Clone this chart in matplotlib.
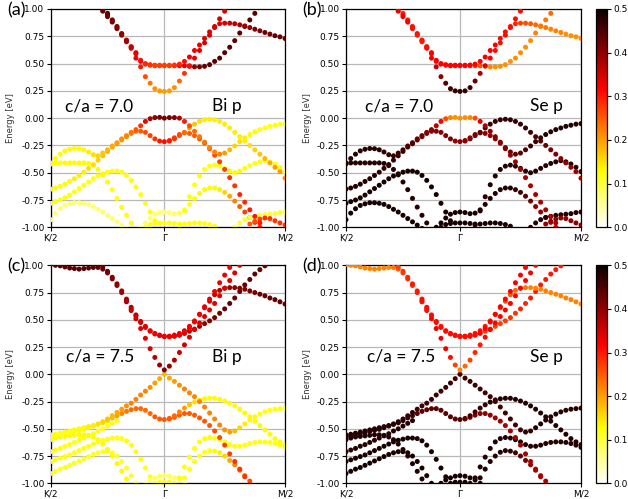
import numpy as np
import matplotlib
matplotlib.use("Agg")
import matplotlib.pyplot as plt
from matplotlib.colors import Normalize
from matplotlib.cm import ScalarMappable

# k-path: 25 points K/2 -> Gamma and 25 points Gamma -> M/2 (Gamma shared)
GAMMA = 0.485
k_path = np.concatenate([np.linspace(0, GAMMA, 25), np.linspace(GAMMA, 1, 25)[1:]])
k_ticks = [0, GAMMA, 1]
k_labels = ["K/2", "Γ", "M/2"]

# each band: (first k index, energies in eV); weights are orbital projections x100

# ---------------- c/a = 7.0 ----------------
cb1_70 = (11, [0.98, 0.93, 0.88, 0.82, 0.76, 0.70, 0.64, 0.55, 0.47, 0.38, 0.32, 0.27, 0.25, 0.245,
               0.25, 0.28, 0.34, 0.41, 0.48, 0.55, 0.62, 0.69, 0.76, 0.83, 0.91, 0.98])
cb1_70_bi = [43, 43, 42, 41, 40, 38, 36, 33, 30, 26, 23, 21, 20, 20, 20, 21, 24, 28, 31, 33, 34, 34, 35, 35, 35, 35]
cb1_70_se = [33, 33, 32, 31, 30, 30, 31, 33, 36, 40, 44, 46, 47, 47, 47, 46, 43, 38, 34, 32, 31, 31, 31, 31, 31, 31]

cb2_70 = (11, [0.99, 0.945, 0.89, 0.83, 0.77, 0.71, 0.65, 0.60, 0.53, 0.50, 0.49, 0.485, 0.485, 0.485,
               0.485, 0.487, 0.495, 0.52, 0.56, 0.62, 0.67, 0.73, 0.79, 0.84, 0.865, 0.87, 0.87, 0.865,
               0.855, 0.845, 0.83, 0.815, 0.80, 0.785, 0.77, 0.755, 0.745, 0.73])
cb2_70_bi = [44, 43, 42, 41, 40, 38, 36, 34, 31, 29, 28, 27, 27, 27,
             27, 28, 29, 31, 33, 33, 33, 34, 34, 34, 34, 35, 36, 37, 38, 39, 40, 41, 41, 42, 42, 43, 43, 43]
cb2_70_se = [31, 31, 31, 31, 31, 31, 31, 32, 32, 32, 32, 32, 32, 32,
             32, 32, 32, 32, 32, 32, 32, 31, 31, 30, 29, 27, 26, 25, 24, 23, 23, 22, 22, 22, 21, 21, 21, 21]

cb3_70 = (11, [1.01, 0.96, 0.90, 0.84, 0.775, 0.715, 0.655, 0.59, 0.52, 0.495, 0.485, 0.48, 0.48, 0.48,
               0.48, 0.48, 0.48, 0.48, 0.475, 0.47, 0.47, 0.475, 0.49, 0.52, 0.55, 0.60, 0.65, 0.71,
               0.78, 0.84, 0.90, 0.96, 1.02])
cb3_70_bi = [44, 44, 43, 42, 41, 39, 37, 35, 32, 30, 29, 28, 28, 28,
             29, 30, 32, 34, 37, 40, 42, 43, 44, 44, 44, 44, 44, 44, 44, 44, 44, 44, 44]
cb3_70_se = [29, 29, 29, 30, 30, 30, 31, 31, 32, 32, 32, 32, 32, 32,
             31, 30, 28, 26, 24, 22, 21, 21, 21, 21, 21, 21, 21, 21, 22, 22, 23, 24, 25]

vb1_70 = (0, [-0.42, -0.37, -0.33, -0.30, -0.285, -0.278, -0.28, -0.29, -0.31, -0.335,
              -0.345, -0.32, -0.29, -0.255, -0.225, -0.19, -0.16, -0.13, -0.105, -0.07,
              -0.03, -0.005, 0.005, 0.007, 0.0, 0.005, 0.005, 0.0, -0.03, -0.07,
              -0.12, -0.17, -0.22, -0.27, -0.31, -0.33, -0.32, -0.29, -0.255, -0.215,
              -0.18, -0.15, -0.125, -0.105, -0.09, -0.075, -0.065, -0.055, -0.05])
vb1_70_bi = [13, 13, 13, 13, 13, 13, 13, 13, 14, 15, 16, 17, 18, 19, 20, 21, 22, 23, 25, 28,
             33, 38, 41, 42, 42, 42, 41, 38, 30, 26, 24, 23, 23, 22, 22, 22, 20, 18, 16, 15,
             14, 13, 13, 12, 12, 12, 12, 12, 12]
vb1_70_se = [48, 48, 48, 48, 48, 48, 48, 48, 47, 47, 47, 46, 46, 45, 44, 43, 42, 41, 40, 37,
             32, 26, 22, 21, 21, 21, 22, 26, 34, 38, 40, 41, 41, 42, 42, 43, 44, 45, 46, 47,
             47, 48, 48, 48, 48, 48, 48, 48, 48]

vb2_70 = (0, [-0.65, -0.64, -0.625, -0.605, -0.58, -0.555, -0.525, -0.495, -0.46, -0.425,
              -0.385, -0.345, -0.305, -0.265, -0.235, -0.20, -0.17, -0.14, -0.12, -0.12,
              -0.13, -0.16, -0.19, -0.21, -0.215, -0.21, -0.19, -0.16, -0.13, -0.09,
              -0.055, -0.03, -0.015, -0.01, -0.015, -0.03, -0.055, -0.09, -0.13, -0.17,
              -0.21, -0.25, -0.29, -0.33, -0.37, -0.41, -0.45, -0.49, -0.55])
vb2_70_bi = [13, 13, 13, 13, 13, 14, 14, 14, 15, 15, 16, 17, 18, 19, 20, 21, 22, 23, 24, 25,
             26, 27, 28, 30, 31, 30, 28, 26, 24, 20, 17, 15, 14, 14, 14, 14, 14, 14, 14, 14,
             14, 15, 16, 17, 18, 19, 20, 20, 21]
vb2_70_se = [48, 48, 48, 48, 48, 48, 48, 47, 47, 47, 47, 46, 46, 45, 44, 43, 42, 42, 41, 41,
             41, 41, 41, 40, 40, 40, 41, 42, 43, 45, 46, 47, 47, 47, 47, 47, 47, 47, 46, 45,
             44, 43, 42, 41, 40, 40, 39, 39, 38]

l2_70 = (0, [-0.41, -0.41, -0.41, -0.41, -0.41, -0.41, -0.41, -0.41, -0.415, -0.435,
             -0.47, -0.52, -0.585, -0.655, -0.735, -0.815, -0.89, -0.96, -1.03])
l2_70_bi = [13, 13, 13, 13, 13, 13, 13, 13, 13, 13, 13, 13, 12, 12, 12, 12, 12, 12, 12]
l2_70_se = [48, 48, 48, 48, 48, 48, 48, 48, 48, 48, 48, 48, 48, 48, 48, 48, 48, 48, 48]

l4_70 = (0, [-0.78, -0.765, -0.75, -0.73, -0.705, -0.675, -0.645, -0.615, -0.585, -0.555,
             -0.53, -0.51, -0.495, -0.485, -0.485, -0.495, -0.525, -0.57, -0.63, -0.70,
             -0.78, -0.86, -0.94, -1.02])
l4_70_bi = [12, 12, 12, 12, 12, 12, 12, 12, 12, 12, 12, 12, 12, 12, 12, 12, 12, 12, 12, 12, 12, 12, 12, 12]
l4_70_se = [49, 49, 49, 49, 49, 49, 49, 49, 49, 49, 49, 49, 49, 49, 49, 49, 49, 49, 49, 49, 49, 49, 49, 49]

l5_70 = (0, [-0.93, -0.87, -0.83, -0.80, -0.785, -0.775, -0.775, -0.78, -0.79, -0.81,
             -0.835, -0.86, -0.89, -0.92, -0.95, -0.98, -1.01])
l5_70_bi = [7, 7, 7, 7, 7, 7, 7, 7, 7, 7, 7, 7, 7, 7, 7, 7, 7]
l5_70_se = [49, 49, 49, 49, 49, 49, 49, 49, 49, 49, 49, 49, 49, 49, 49, 49, 49]

b1_70 = (19, [-1.0, -0.96, -0.915, -0.88, -0.865, -0.86,
              -0.865, -0.875, -0.87, -0.84, -0.79, -0.735, -0.69, -0.655, -0.64, -0.64,
              -0.655, -0.68, -0.715, -0.76, -0.81, -0.86, -0.91, -0.955, -1.0])
b1_70_bi = [7, 7, 7, 7, 7, 7, 7, 8, 9, 10, 11, 12, 13, 13, 13, 13, 14, 16, 19, 22, 25, 27, 28, 29, 30]
b1_70_se = [49, 49, 49, 49, 49, 49, 49, 49, 49, 48, 48, 48, 48, 48, 48, 48, 47, 46, 44, 42, 40, 39, 38, 37, 37]

r1_70 = (27, [-0.98, -0.85, -0.72, -0.61, -0.53, -0.47, -0.44, -0.43, -0.44, -0.46, -0.485,
              -0.50, -0.485, -0.46, -0.435, -0.415, -0.40, -0.39, -0.40, -0.42, -0.45, -0.49])
r1_70_bi = [12, 12, 12, 12, 12, 12, 12, 12, 12, 12, 13, 13, 13, 12, 12, 12, 12, 12, 12, 12, 12, 12]
r1_70_se = [48, 48, 48, 48, 48, 48, 48, 48, 48, 48, 48, 48, 48, 48, 48, 48, 48, 48, 48, 48, 48, 48]

vbp_70 = (25, [-0.205, -0.18, -0.15, -0.135, -0.14, -0.16, -0.19, -0.23, -0.28, -0.34,
               -0.40, -0.47, -0.545, -0.62, -0.70, -0.77, -0.84, -0.90, -0.96, -1.02])
vbp_70_bi = [28, 27, 26, 25, 25, 25, 25, 25, 26, 26, 27, 27, 28, 28, 29, 29, 30, 30, 30, 30]
vbp_70_se = [40, 40, 40, 40, 40, 40, 40, 40, 40, 39, 39, 38, 38, 38, 38, 38, 38, 38, 38, 38]

r4_70 = (38, [-1.0, -0.96, -0.93, -0.91, -0.90, -0.89, -0.885, -0.88, -0.875, -0.865, -0.86])
r4_70_bi = [10, 10, 10, 10, 10, 10, 10, 10, 10, 10, 10]
r4_70_se = [48, 48, 48, 48, 48, 48, 48, 48, 48, 48, 48]

r5_70 = (41, [-0.97, -0.945, -0.925, -0.915, -0.92, -0.94, -0.96, -0.98])
r5_70_bi = [25, 26, 27, 28, 28, 28, 28, 28]
r5_70_se = [40, 40, 40, 40, 40, 40, 40, 40]

b2_70 = (20, [-1.0, -0.975, -0.965, -0.96, -0.96, -0.96, -0.965, -0.97, -0.97, -0.965,
              -0.96, -0.96, -0.965, -0.975, -0.99])
b2_70_bi = [12, 12, 12, 12, 12, 12, 12, 12, 12, 12, 12, 12, 12, 12, 12]
b2_70_se = [49, 49, 49, 49, 49, 49, 49, 49, 49, 49, 49, 49, 49, 49, 49]

# ---------------- c/a = 7.5 ----------------
cba_75 = (0, [1.01, 1.0, 0.995, 0.985, 0.975, 0.97, 0.965, 0.97, 0.975, 0.98, 0.98, 0.965, 0.93,
              0.875, 0.815, 0.75, 0.675, 0.60, 0.535, 0.475, 0.43, 0.395, 0.37, 0.355, 0.345,
              0.345, 0.35, 0.36, 0.375, 0.395, 0.415, 0.44, 0.465, 0.49, 0.52, 0.56, 0.60,
              0.65, 0.70, 0.76, 0.82, 0.87, 0.92, 0.96, 0.995])
cba_75_bi = [44, 44, 44, 44, 44, 44, 44, 44, 44, 44, 44, 43, 42, 41, 40, 39, 38, 37, 36, 35, 34, 33, 33, 33, 33,
             33, 34, 35, 36, 37, 38, 39, 40, 41, 42, 42, 43, 43, 43, 43, 43, 43, 43, 43, 43]
cba_75_se = [22, 22, 22, 22, 22, 22, 22, 22, 22, 22, 23, 25, 27, 28, 29, 30, 30, 31, 31, 31, 31, 31, 31, 31, 31,
             31, 30, 29, 28, 27, 27, 27, 27, 27, 28, 28, 29, 29, 30, 30, 30, 30, 30, 30, 30]

cbb_75 = (11, [0.985, 0.945, 0.89, 0.83, 0.765, 0.69, 0.615, 0.545, 0.485, 0.44, 0.40, 0.375, 0.36, 0.35,
               0.35, 0.36, 0.375, 0.40, 0.44, 0.49, 0.55, 0.61, 0.67, 0.73, 0.77, 0.79, 0.795, 0.795,
               0.79, 0.78, 0.765, 0.75, 0.735, 0.72, 0.70, 0.685, 0.665, 0.645])
cbb_75_bi = [43, 42, 41, 40, 39, 38, 37, 36, 35, 34, 33, 33, 33, 33,
             33, 33, 33, 33, 33, 33, 33, 34, 35, 36, 37, 38, 39, 40, 41, 41, 42, 42, 43, 43, 43, 43, 43, 43]
cbb_75_se = [27, 28, 29, 30, 30, 31, 31, 31, 31, 31, 31, 31, 31, 31,
             31, 31, 31, 30, 30, 29, 28, 27, 26, 25, 24, 23, 23, 22, 22, 22, 22, 22, 22, 22, 22, 22, 22, 22]

cb1_75 = (16, [0.665, 0.585, 0.51, 0.42, 0.33, 0.235, 0.155, 0.085, 0.04,
               0.075, 0.13, 0.20, 0.27, 0.34, 0.41, 0.47, 0.53, 0.59, 0.65, 0.72, 0.79, 0.86, 0.93, 1.0])
cb1_75_bi = [38, 36, 35, 34, 34, 35, 37, 39, 41, 40, 38, 36, 35, 34, 34, 34, 34, 34, 34, 34, 34, 34, 34, 34]
cb1_75_se = [31, 31, 32, 33, 33, 33, 31, 27, 22, 24, 27, 29, 30, 31, 32, 32, 32, 32, 32, 32, 32, 32, 32, 32]

cb2_75 = (25, [0.345, 0.35, 0.36, 0.38, 0.42, 0.48, 0.55, 0.62, 0.69, 0.76, 0.84, 0.91, 0.98])
cb2_75_bi = [33, 33, 33, 33, 33, 33, 33, 33, 33, 33, 33, 33, 33]
cb2_75_se = [31, 31, 31, 32, 32, 32, 32, 32, 32, 32, 32, 32, 32]

vb1_75 = (0, [-0.555, -0.55, -0.54, -0.53, -0.52, -0.51, -0.50, -0.49, -0.48, -0.47,
              -0.455, -0.435, -0.41, -0.38, -0.35, -0.32, -0.29, -0.265, -0.23, -0.19,
              -0.155, -0.12, -0.08, -0.04, 0.0, -0.035, -0.065, -0.10, -0.135, -0.17,
              -0.205, -0.25, -0.30, -0.355, -0.41, -0.465, -0.51, -0.53, -0.52, -0.49,
              -0.455, -0.42, -0.39, -0.365, -0.345, -0.33, -0.32, -0.315, -0.31])
vb1_75_bi = [12, 12, 12, 12, 12, 13, 13, 13, 14, 14, 15, 16, 17, 18, 19, 20, 21, 22, 22, 22,
             22, 21, 20, 19, 18, 19, 20, 21, 22, 22, 22, 22, 22, 22, 22, 22, 21, 20, 18, 16,
             14, 13, 13, 12, 12, 12, 12, 12, 12]
vb1_75_se = [48, 48, 48, 48, 48, 48, 48, 48, 48, 48, 48, 48, 47, 47, 47, 46, 46, 46, 46, 46,
             46, 46, 46, 46, 45, 46, 46, 46, 46, 46, 46, 46, 46, 46, 46, 46, 46, 47, 47, 48,
             48, 48, 48, 48, 48, 48, 48, 48, 48]

vb2_75 = (0, [-0.575, -0.565, -0.555, -0.545, -0.535, -0.525, -0.515, -0.505, -0.49, -0.475,
              -0.46, -0.445, -0.425, -0.40, -0.38, -0.36, -0.34, -0.325, -0.315, -0.315,
              -0.33, -0.36, -0.39, -0.41, -0.415, -0.405, -0.38, -0.345, -0.31, -0.28,
              -0.255, -0.235, -0.225, -0.22, -0.22, -0.23, -0.245, -0.265, -0.29, -0.32,
              -0.355, -0.39, -0.43, -0.47, -0.51, -0.55, -0.59, -0.62, -0.645])
vb2_75_bi = [12, 12, 12, 12, 12, 12, 13, 13, 13, 14, 14, 15, 16, 18, 20, 22, 23, 24, 24, 24,
             24, 24, 25, 25, 25, 25, 24, 22, 20, 17, 15, 14, 13, 13, 13, 13, 13, 13, 13, 13,
             13, 13, 13, 13, 13, 13, 13, 13, 13]
vb2_75_se = [48, 48, 48, 48, 48, 48, 48, 48, 48, 48, 48, 48, 47, 46, 45, 44, 44, 44, 44, 44,
             44, 44, 44, 44, 44, 44, 45, 46, 47, 47, 48, 48, 48, 48, 48, 48, 48, 48, 48, 48,
             48, 48, 48, 48, 48, 48, 48, 48, 48]

vbp_75 = (25, [-0.41, -0.395, -0.375, -0.36, -0.36, -0.375, -0.40, -0.43, -0.47, -0.52,
               -0.58, -0.65, -0.73, -0.80, -0.87, -0.94, -1.01])
vbp_75_bi = [25, 25, 25, 25, 25, 25, 25, 25, 25, 26, 26, 27, 27, 28, 28, 28, 28]
vbp_75_se = [42, 42, 41, 40, 40, 40, 39, 39, 38, 38, 38, 38, 38, 38, 38, 38, 38]

l2_75 = (0, [-0.60, -0.585, -0.575, -0.57, -0.565, -0.56, -0.555, -0.555, -0.56, -0.575,
             -0.60, -0.64, -0.69, -0.75, -0.82, -0.89, -0.96, -1.03])
l2_75_bi = [13, 13, 13, 13, 13, 13, 13, 13, 13, 13, 13, 13, 13, 13, 13, 13, 13, 13]
l2_75_se = [48, 48, 48, 48, 48, 48, 48, 48, 48, 48, 48, 48, 48, 48, 48, 48, 48, 48]

l3_75 = (0, [-0.71, -0.695, -0.68, -0.66, -0.645, -0.625, -0.605, -0.585, -0.565, -0.545,
             -0.52, -0.50, -0.475, -0.45, -0.425])
l3_75_bi = [12, 12, 12, 12, 12, 12, 12, 12, 12, 12, 12, 12, 12, 12, 12]
l3_75_se = [48, 48, 48, 48, 48, 48, 48, 48, 48, 48, 48, 48, 48, 48, 48]

l4_75 = (0, [-0.80, -0.785, -0.77, -0.755, -0.74, -0.72, -0.70, -0.68, -0.66, -0.64,
             -0.62, -0.605, -0.595, -0.585, -0.585, -0.59, -0.61, -0.65, -0.71, -0.78,
             -0.86, -0.94, -1.02])
l4_75_bi = [12, 12, 12, 12, 12, 12, 12, 12, 12, 12, 12, 12, 12, 12, 12, 12, 12, 12, 12, 12, 12, 12, 12]
l4_75_se = [49, 49, 49, 49, 49, 49, 49, 49, 49, 49, 49, 49, 49, 49, 49, 49, 49, 49, 49, 49, 49, 49, 49]

l5_75 = (0, [-0.91, -0.89, -0.87, -0.855, -0.835, -0.815, -0.795, -0.775, -0.755, -0.735,
             -0.72, -0.71, -0.71, -0.72, -0.75, -0.80, -0.86, -0.93, -1.0])
l5_75_bi = [11, 11, 11, 11, 11, 11, 11, 11, 11, 11, 11, 11, 11, 11, 11, 11, 11, 11, 11]
l5_75_se = [49, 49, 49, 49, 49, 49, 49, 49, 49, 49, 49, 49, 49, 49, 49, 49, 49, 49, 49]

r2_75 = (27, [-0.95, -0.85, -0.76, -0.68, -0.62, -0.59, -0.58, -0.585, -0.60, -0.62, -0.645,
              -0.66, -0.66, -0.65, -0.635, -0.625, -0.62, -0.62, -0.625, -0.635, -0.65, -0.67])
r2_75_bi = [12, 12, 12, 12, 12, 12, 12, 12, 12, 12, 12, 12, 12, 12, 12, 12, 12, 12, 12, 12, 12, 12]
r2_75_se = [48, 48, 48, 48, 48, 48, 48, 48, 48, 48, 48, 48, 48, 48, 48, 48, 48, 48, 48, 48, 48, 48]

r3_75 = (28, [-0.95, -0.87, -0.80, -0.75, -0.715, -0.70, -0.705, -0.72, -0.75, -0.79, -0.83,
              -0.88, -0.93, -0.98])
r3_75_bi = [12, 12, 12, 12, 12, 12, 13, 14, 16, 19, 22, 24, 25, 26]
r3_75_se = [48, 48, 48, 48, 48, 48, 47, 46, 44, 42, 40, 39, 38, 38]

b1_75 = (20, [-1.0, -0.97, -0.95, -0.935, -0.93, -0.935, -0.95, -0.97, -1.0])
b1_75_bi = [8, 8, 8, 8, 8, 8, 8, 8, 8]
b1_75_se = [49, 49, 49, 49, 49, 49, 49, 49, 49]

b2_75 = (22, [-1.0, -0.99, -0.99, -0.99, -1.0])
b2_75_bi = [12, 12, 12, 12, 12]
b2_75_se = [49, 49, 49, 49, 49]

bands_70 = [
    (l5_70, l5_70_bi, l5_70_se), (l4_70, l4_70_bi, l4_70_se), (l2_70, l2_70_bi, l2_70_se),
    (b2_70, b2_70_bi, b2_70_se), (b1_70, b1_70_bi, b1_70_se), (r1_70, r1_70_bi, r1_70_se),
    (r4_70, r4_70_bi, r4_70_se), (r5_70, r5_70_bi, r5_70_se), (vbp_70, vbp_70_bi, vbp_70_se),
    (vb2_70, vb2_70_bi, vb2_70_se), (vb1_70, vb1_70_bi, vb1_70_se),
    (cb3_70, cb3_70_bi, cb3_70_se), (cb2_70, cb2_70_bi, cb2_70_se), (cb1_70, cb1_70_bi, cb1_70_se),
]
bands_75 = [
    (l5_75, l5_75_bi, l5_75_se), (l4_75, l4_75_bi, l4_75_se), (l3_75, l3_75_bi, l3_75_se),
    (l2_75, l2_75_bi, l2_75_se), (b2_75, b2_75_bi, b2_75_se), (b1_75, b1_75_bi, b1_75_se),
    (r3_75, r3_75_bi, r3_75_se), (r2_75, r2_75_bi, r2_75_se), (vbp_75, vbp_75_bi, vbp_75_se),
    (vb2_75, vb2_75_bi, vb2_75_se), (vb1_75, vb1_75_bi, vb1_75_se),
    (cba_75, cba_75_bi, cba_75_se), (cbb_75, cbb_75_bi, cbb_75_se),
    (cb2_75, cb2_75_bi, cb2_75_se), (cb1_75, cb1_75_bi, cb1_75_se),
]

CMAP = "hot_r"
VMAX = 0.5
W, H = 628, 499
TEXT_FONT = ["Lato", "DejaVu Sans"]


def px_box(x0, y0, x1, y1):
    # pixel box (left, top, right, bottom) -> figure fraction rect
    return [x0 / W, 1 - y1 / H, (x1 - x0) / W, (y1 - y0) / H]


def draw_panel(ax, bands, use_bi):
    for (start, energies), w_bi, w_se in bands:
        w = w_bi if use_bi else w_se
        assert len(w) == len(energies), (start, len(w), len(energies))
        x = k_path[start:start + len(energies)]
        ax.scatter(x, energies, c=np.array(w) / 100.0, cmap=CMAP, vmin=0, vmax=VMAX,
                   s=13, linewidths=0, zorder=3)
    ax.set_xlim(0, 1)
    ax.set_ylim(-1, 1)
    ax.set_xticks(k_ticks)
    ax.set_xticklabels(k_labels)
    ax.set_yticks([-1, -0.75, -0.5, -0.25, 0, 0.25, 0.5, 0.75, 1])
    ax.yaxis.set_major_formatter(plt.FormatStrFormatter("%.2f"))
    ax.grid(True, color="#b8b8b8", linewidth=0.9, zorder=0)
    ax.set_axisbelow(True)
    ax.tick_params(labelsize=6.5, length=3, width=0.8, pad=1.5)
    for sp in ax.spines.values():
        sp.set_linewidth(0.9)


fig = plt.figure(figsize=(W / 100, H / 100), dpi=100)

panels = [
    ("(a)", px_box(50.7, 9, 285, 227.3), bands_70, True, "c/a = 7.0", 0.06, "Bi p", 0.69, 0.555, (7, 2), 11),
    ("(b)", px_box(346, 9, 581, 227.3), bands_70, False, "c/a = 7.0", 0.082, "Se p", 0.782, 0.555, (302, 2), 307),
    ("(c)", px_box(50.7, 265.3, 285, 483.3), bands_75, True, "c/a = 7.5", 0.065, "Bi p", 0.69, 0.58, (7, 258), 11),
    ("(d)", px_box(346, 265.3, 581, 483.3), bands_75, False, "c/a = 7.5", 0.088, "Se p", 0.782, 0.58, (302, 258), 307),
]

for tag, rect, bands, use_bi, ca_text, ca_x, orb_text, orb_x, ty, tag_px, ylab_x in panels:
    ax = fig.add_axes(rect)
    draw_panel(ax, bands, use_bi)
    ax.text(ca_x, ty, ca_text, transform=ax.transAxes, fontsize=12.5, va="center",
            family=TEXT_FONT, zorder=5)
    ax.text(orb_x, ty, orb_text, transform=ax.transAxes, fontsize=12.5, va="center",
            family=TEXT_FONT, zorder=5)
    fig.text(tag_px[0] / W, 1 - tag_px[1] / H, tag, fontsize=13, va="top", ha="left",
             family=TEXT_FONT)
    y_mid = rect[1] + rect[3] / 2
    fig.text(ylab_x / W, y_mid, "Energy [eV]", rotation=90, fontsize=6, va="center", ha="center",
             color="#333333")

# colorbars
norm = Normalize(vmin=0, vmax=VMAX)
for box in (px_box(595.7, 9, 606.7, 227.3), px_box(595.7, 265.3, 606.7, 483.3)):
    cax = fig.add_axes(box)
    cb = fig.colorbar(ScalarMappable(norm=norm, cmap=CMAP), cax=cax)
    cb.set_ticks([0, 0.1, 0.2, 0.3, 0.4, 0.5])
    cb.ax.yaxis.set_major_formatter(plt.FormatStrFormatter("%.1f"))
    cb.ax.tick_params(labelsize=6.5, length=3, width=0.8, pad=1.5)
    cb.outline.set_linewidth(0.9)

fig.savefig("out.png", dpi=100)
